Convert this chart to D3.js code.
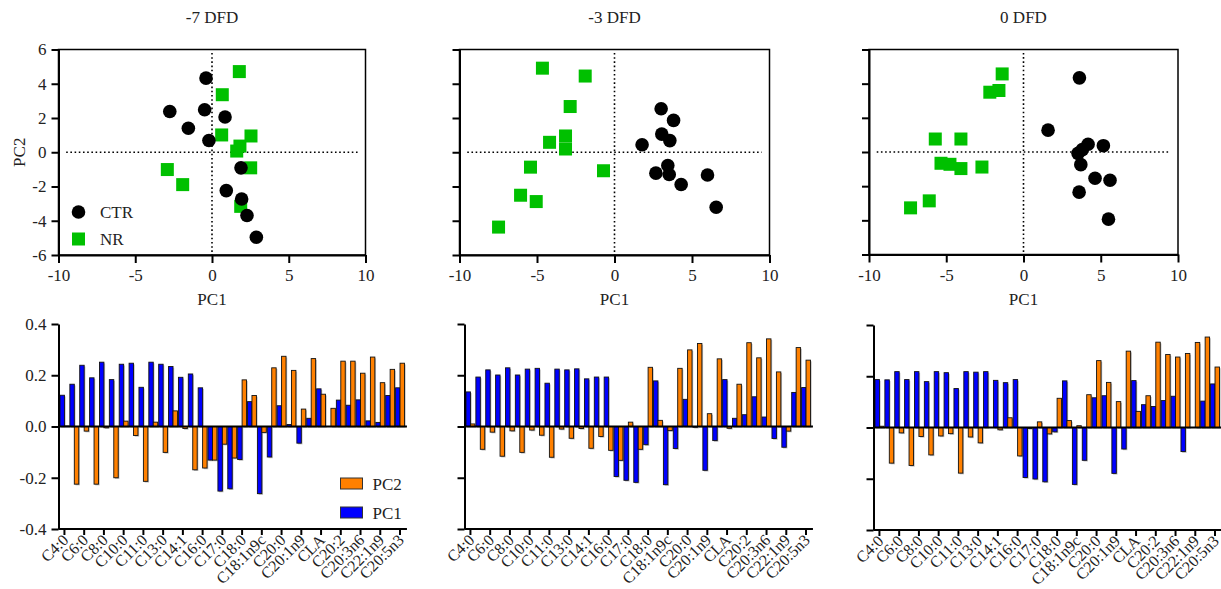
<!DOCTYPE html>
<html>
<head>
<meta charset="utf-8">
<script src="https://cdn.jsdelivr.net/npm/d3@7"></script>
<style>
  body { margin: 0; background: #fff; }
  svg text { font-family: "Liberation Serif", "DejaVu Serif", serif !important; fill: #222; }
</style>
</head>
<body>
<svg id="drawing_region"></svg>
<script>
// ---- data ----
const panelTitles = ['-7 DFD', '-3 DFD', '0 DFD'];
const groups = ['CTR', 'NR'];
const seriesNames = ['PC1', 'PC2'];

const xTicks = [-10, -5, 0, 5, 10];
const yTicks = [-6, -4, -2, 0, 2, 4, 6];
const barTicks = [-0.4, -0.2, 0, 0.2, 0.4];

// score plots: [PC1, PC2]
const ctrM7 = [[-0.39,4.33],[-2.75,2.38],[-0.48,2.48],[0.85,2.06],[-1.54,1.40],[-0.20,0.69],
               [1.89,-0.91],[0.93,-2.24],[1.93,-2.73],[2.28,-3.69],[2.89,-4.96]];
const nrM7  = [[1.78,4.71],[0.67,3.36],[0.63,1.01],[2.54,0.95],[1.82,0.36],[1.61,0.07],
               [2.52,-0.91],[-2.91,-1.01],[-1.91,-1.89],[1.87,-3.16]];
const ctrM3 = [[3.01,2.54],[3.81,1.86],[3.05,1.06],[3.57,0.68],[1.78,0.44],[3.44,-0.77],
               [2.67,-1.22],[3.53,-1.30],[6.00,-1.33],[4.30,-1.88],[6.56,-3.21]];
const nrM3  = [[-4.65,4.91],[-1.89,4.45],[-2.86,2.67],[-3.16,0.95],[-4.19,0.58],[-3.16,0.19],
               [-5.42,-0.87],[-0.71,-1.08],[-6.06,-2.51],[-5.05,-2.88],[-7.48,-4.37]];
const ctr0  = [[3.62,4.34],[1.59,1.28],[4.18,0.45],[5.17,0.37],[3.81,0.14],[3.53,-0.08],
               [3.71,-0.74],[4.63,-1.54],[5.60,-1.65],[3.60,-2.35],[5.50,-3.93]];
const nr0   = [[-1.38,4.57],[-1.59,3.60],[-2.18,3.50],[-5.71,0.76],[-4.05,0.76],[-5.34,-0.66],
               [-4.76,-0.72],[-4.05,-0.97],[-2.69,-0.88],[-6.10,-2.86],[-7.31,-3.27]];

// loadings (only every other name is printed on the axis)
const fattyAcids = ['C4:0','C5:0','C6:0','C7:0','C8:0','C9:0','C10:0','C10:1','C11:0','C12:0',
  'C13:0','C14:0','C14:1','C15:0','C16:0','C16:1','C17:0','C17:1','C18:0','C18:1n9t',
  'C18:1n9c','C18:2n6t','C20:0','C18:2n6c','C20:1n9','C18:3n3','CLA','C21:0','C20:2','C22:0',
  'C20:3n6','C20:4n6','C22:1n9','C20:3n3','C20:5n3'];

const pc1M7 = [0.122,0.165,0.239,0.190,0.251,0.183,0.243,0.247,0.153,0.251,0.243,0.234,0.192,0.205,0.151,
  -0.131,-0.252,-0.243,-0.129,0.097,-0.262,-0.119,0.081,0.008,-0.065,0.032,0.147,0.000,0.103,0.083,
  0.104,0.022,0.016,0.121,0.151];
const pc2M7 = [0.002,-0.225,-0.018,-0.225,-0.005,-0.200,0.021,-0.035,-0.214,0.017,-0.101,0.061,-0.008,-0.169,-0.162,
  -0.131,-0.069,-0.123,0.182,0.121,-0.023,0.229,0.274,0.219,0.068,0.265,0.126,0.071,0.255,0.255,
  0.208,0.271,0.171,0.223,0.247];
const pc1M3 = [0.135,0.193,0.221,0.201,0.229,0.201,0.224,0.227,0.169,0.224,0.221,0.225,0.186,0.193,0.193,
  -0.195,-0.210,-0.218,-0.071,0.178,-0.227,-0.086,0.106,-0.003,-0.171,-0.055,0.183,0.032,0.046,0.116,
  0.037,-0.047,-0.081,0.133,0.152];
const pc2M3 = [0.010,-0.089,-0.022,-0.116,-0.017,-0.101,-0.014,-0.034,-0.120,-0.010,-0.046,-0.008,-0.085,-0.039,-0.093,
  -0.132,0.017,-0.089,0.231,0.024,-0.016,0.227,0.299,0.324,0.050,0.264,-0.007,0.165,0.327,0.268,
  0.342,0.213,-0.018,0.308,0.259];
const pc1D0 = [0.187,0.186,0.218,0.187,0.218,0.179,0.218,0.214,0.152,0.218,0.216,0.218,0.184,0.175,0.187,
  -0.195,-0.201,-0.212,-0.017,0.182,-0.222,-0.128,0.116,0.124,-0.179,-0.084,0.183,0.089,0.082,0.105,
  0.122,-0.094,0.000,0.103,0.170];
const pc2D0 = [0.005,-0.139,-0.021,-0.148,-0.035,-0.107,-0.033,-0.024,-0.178,-0.037,-0.060,0.000,-0.009,0.038,-0.111,
  -0.004,0.022,-0.025,0.114,0.027,0.007,0.128,0.261,0.176,0.101,0.298,0.063,0.124,0.333,0.285,
  0.275,0.289,0.332,0.353,0.236];

// ---- drawing ----
const colors = { CTR: '#000000', NR: '#00c000', PC1: '#0000ff', PC2: '#ff8000' };
const FONT = '"Liberation Serif", "DejaVu Serif", serif';
const FS = 17;
const fmtInt = d => String(d);
const fmtDec = d => d.toFixed(1);

const svg = d3.select('#drawing_region').attr('width', 1221).attr('height', 589)
  .attr('font-family', FONT);

function styleAxis(g) {
  g.attr('font-family', FONT);
  g.select('.domain').attr('stroke', '#000').attr('stroke-width', 2);
  g.selectAll('.tick line').attr('stroke', '#000').attr('stroke-width', 2);
  g.selectAll('.tick text').attr('font-size', FS).attr('fill', '#222').style('font-family', FONT);
}

function scatter(cfg) {
  const g = svg.append('g').attr('transform', `translate(${cfg.left},${cfg.top})`);
  const x = d3.scaleLinear().domain([-10, 10]).range([0, cfg.width]);
  const y = d3.scaleLinear().domain([-6, 6]).range([cfg.height, 0]);

  g.append('rect').attr('width', cfg.width).attr('height', cfg.height)
    .attr('fill', 'none').attr('stroke', '#000').attr('stroke-width', 1.5);

  // zero reference lines
  g.append('line').attr('x1', x(-9.5)).attr('x2', x(9.5)).attr('y1', y(0)).attr('y2', y(0))
    .attr('stroke', '#000').attr('stroke-width', 1.6).attr('stroke-dasharray', '1.6,2.6');
  g.append('line').attr('x1', x(0)).attr('x2', x(0)).attr('y1', y(5.8)).attr('y2', y(-6))
    .attr('stroke', '#000').attr('stroke-width', 1.6).attr('stroke-dasharray', '1.6,2.6');

  g.append('g').attr('transform', `translate(0,${cfg.height})`)
    .call(d3.axisBottom(x).tickValues(xTicks).tickFormat(fmtInt).tickSize(8).tickSizeOuter(0).tickPadding(6))
    .call(styleAxis);
  g.append('g')
    .call(d3.axisLeft(y).tickValues(yTicks).tickFormat(cfg.showY ? fmtInt : '').tickSize(7).tickSizeOuter(0).tickPadding(5))
    .call(styleAxis);

  g.selectAll('rect.nr').data(cfg.nr).join('rect').attr('class', 'nr')
    .attr('x', d => x(d[0]) - 6.5).attr('y', d => y(d[1]) - 6.5)
    .attr('width', 13).attr('height', 13).attr('fill', colors.NR);
  g.selectAll('circle.ctr').data(cfg.ctr).join('circle').attr('class', 'ctr')
    .attr('cx', d => x(d[0])).attr('cy', d => y(d[1])).attr('r', 6.8).attr('fill', colors.CTR);

  svg.append('text').attr('x', cfg.left + cfg.width / 2).attr('y', 23).attr('text-anchor', 'middle')
    .attr('font-size', FS).text(cfg.title);
  svg.append('text').attr('x', cfg.left + cfg.width / 2).attr('y', 305).attr('text-anchor', 'middle')
    .attr('font-size', FS).text('PC1');

  if (cfg.showY) {
    svg.append('text').attr('transform', `translate(${cfg.left - 34},${cfg.top + cfg.height / 2}) rotate(-90)`)
      .attr('text-anchor', 'middle').attr('font-size', FS).text('PC2');
  }
  if (cfg.legend) {
    const lg = g.append('g');
    groups.forEach((name, i) => {
      const cy = 162.5 + i * 27;
      if (name === 'CTR') lg.append('circle').attr('cx', 20).attr('cy', cy).attr('r', 6.8).attr('fill', colors.CTR);
      else lg.append('rect').attr('x', 13.5).attr('y', cy - 6.5).attr('width', 13).attr('height', 13).attr('fill', colors.NR);
      lg.append('text').attr('x', 41.5).attr('y', cy + 6).attr('font-size', FS).text(name);
    });
  }
}

function loadings(cfg) {
  const g = svg.append('g').attr('transform', `translate(${cfg.left},${cfg.top})`);
  const step = 9.87;
  const x = d3.scaleBand().domain(fattyAcids).range([1, 1 + step * fattyAcids.length]).paddingInner(0.1).paddingOuter(0.05);
  const xs = d3.scaleBand().domain(seriesNames).range([0, x.bandwidth()]);
  const y = d3.scaleLinear().domain([-0.4, 0.4]).range([cfg.height, 0]);
  const rows = fattyAcids.map((f, i) => ({ f, PC1: cfg.pc1[i], PC2: cfg.pc2[i] }));

  const grp = g.selectAll('g.grp').data(rows).join('g').attr('class', 'grp')
    .attr('transform', d => `translate(${x(d.f)},0)`);
  seriesNames.forEach(s => {
    // soft drop shadow, as in the source figure
    grp.append('rect')
      .attr('x', xs(s) + 1.2).attr('y', d => Math.min(y(d[s]), y(0)) + 1.2)
      .attr('width', xs.bandwidth()).attr('height', d => Math.abs(y(d[s]) - y(0)))
      .attr('fill', '#bdbdbd');
    grp.append('rect')
      .attr('x', xs(s)).attr('y', d => Math.min(y(d[s]), y(0)))
      .attr('width', xs.bandwidth()).attr('height', d => Math.abs(y(d[s]) - y(0)))
      .attr('fill', colors[s]).attr('stroke', '#111').attr('stroke-width', 0.9);
  });

  const right = 1 + step * fattyAcids.length + 2;
  g.append('line').attr('x1', 0).attr('x2', right).attr('y1', y(0)).attr('y2', y(0))
    .attr('stroke', '#000').attr('stroke-width', 2);

  const xa = g.append('g').attr('transform', `translate(0,${cfg.height})`)
    .call(d3.axisBottom(x).tickValues(fattyAcids.filter((d, i) => i % 2 === 0)).tickSize(6).tickSizeOuter(0))
    .call(styleAxis);
  xa.select('.domain').attr('d', `M0,0H${right}`);
  xa.selectAll('.tick text').attr('text-anchor', 'end').attr('font-size', 16)
    .attr('transform', 'translate(1,8) rotate(-45)').attr('dy', '0.35em').attr('y', 0).attr('x', 0);

  g.append('g')
    .call(d3.axisLeft(y).tickValues(barTicks).tickFormat(cfg.showY ? fmtDec : '').tickSize(7).tickSizeOuter(0).tickPadding(5))
    .call(styleAxis);

  if (cfg.legend) {
    ['PC2', 'PC1'].forEach((s, i) => {
      const yy = 154 + i * 29;
      g.append('rect').attr('x', 282).attr('y', yy).attr('width', 22).attr('height', 11)
        .attr('fill', colors[s]).attr('stroke', '#333').attr('stroke-width', 1);
      g.append('text').attr('x', 314).attr('y', yy + 12).attr('font-size', FS).text(s);
    });
  }
}

scatter({ left: 58.5, top: 49.5, width: 307, height: 205.5, title: panelTitles[0], ctr: ctrM7, nr: nrM7, showY: true, legend: true });
scatter({ left: 459.5, top: 49.5, width: 310, height: 205.5, title: panelTitles[1], ctr: ctrM3, nr: nrM3, showY: false });
scatter({ left: 869, top: 49.5, width: 309, height: 205, title: panelTitles[2], ctr: ctr0, nr: nr0, showY: false });

loadings({ left: 58.5, top: 324, height: 205, pc1: pc1M7, pc2: pc2M7, showY: true, legend: true });
loadings({ left: 464.5, top: 324, height: 205, pc1: pc1M3, pc2: pc2M3, showY: false });
loadings({ left: 873.5, top: 325, height: 205, pc1: pc1D0, pc2: pc2D0, showY: false });
</script>
</body>
</html>
